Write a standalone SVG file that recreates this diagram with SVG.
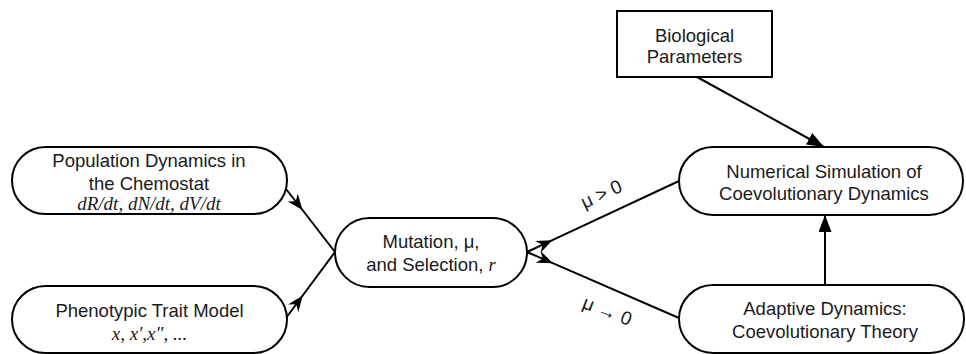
<svg xmlns="http://www.w3.org/2000/svg" width="966" height="354" viewBox="0 0 966 354">
<style>
.node{fill:#fff;stroke:#000;stroke-width:2}
.t{font-family:"Liberation Sans",Arial,sans-serif;font-size:18.5px;fill:#1a1a1a;text-anchor:middle}
.m{font-family:"Liberation Serif","Times New Roman",serif;font-size:19px;font-style:italic;fill:#1a1a1a;text-anchor:middle}
.lbl{font-family:"Liberation Sans",Arial,sans-serif;font-size:19px;fill:#1a1a1a;text-anchor:middle}
.c{fill:none;stroke:#000;stroke-width:2}
</style>
<defs>
<marker id="stealth" markerUnits="userSpaceOnUse" markerWidth="17" markerHeight="13" viewBox="0 0 17 13" refX="16" refY="6.5" orient="auto">
<path d="M0,0 L16,6.5 L0,13 L5,6.5 Z" fill="#000"/>
</marker>
<marker id="tri" markerUnits="userSpaceOnUse" markerWidth="18" markerHeight="13" viewBox="0 0 18 13" refX="17" refY="6.5" orient="auto">
<path d="M0,0 L17,6.5 L0,13 Z" fill="#000"/>
</marker>
</defs>
<g id="connectors">
<path class="c" d="M286,189 L302.5,210 L335,252" marker-mid="url(#stealth)"/>
<path class="c" d="M286,318 L302.7,295.5 L335,252" marker-mid="url(#stealth)"/>
<path class="c" d="M527,252 L552.4,240.2 L679,181" marker-mid="url(#stealth)"/>
<path class="c" d="M527,252 L552.7,263.2 L679,318" marker-mid="url(#stealth)"/>
<path class="c" d="M697,77 L824,147" marker-end="url(#tri)"/>
<path class="c" d="M825,285 L825,215" marker-end="url(#tri)"/>
<text class="lbl" transform="translate(604,200) rotate(-25)">μ &gt; 0</text>
<text class="lbl" transform="translate(605,317) rotate(21)">μ → 0</text>
</g>
<g id="population">
<rect class="node" x="12" y="147" width="275" height="67" rx="33.5"/>
<text class="t" x="149" y="167">Population Dynamics in</text>
<text class="t" x="149" y="190">the Chemostat</text>
<text class="m" x="149" y="210">dR/dt, dN/dt, dV/dt</text>
</g>
<g id="phenotypic">
<rect class="node" x="12" y="286" width="275" height="67" rx="33.5"/>
<text class="t" x="149.5" y="317">Phenotypic Trait Model</text>
<text class="m" x="149.5" y="340">x, x′,x″, ...</text>
</g>
<g id="mutation">
<rect class="node" x="335" y="218" width="192" height="69" rx="34.5"/>
<text class="t" x="431" y="248">Mutation, μ,</text>
<text class="t" x="431" y="271">and Selection, <tspan font-family="Liberation Serif, Times New Roman, serif" font-style="italic">r</tspan></text>
</g>
<g id="biological">
<rect class="node" x="617" y="11" width="155" height="66"/>
<text class="t" x="694.5" y="42">Biological</text>
<text class="t" x="694.5" y="63">Parameters</text>
</g>
<g id="numerical">
<rect class="node" x="679" y="147" width="284" height="68" rx="34"/>
<text class="t" x="824" y="178">Numerical Simulation of</text>
<text class="t" x="824" y="200">Coevolutionary Dynamics</text>
</g>
<g id="adaptive">
<rect class="node" x="679" y="285" width="285" height="68" rx="34"/>
<text class="t" x="825" y="315">Adaptive Dynamics:</text>
<text class="t" x="825" y="338">Coevolutionary Theory</text>
</g>
</svg>
